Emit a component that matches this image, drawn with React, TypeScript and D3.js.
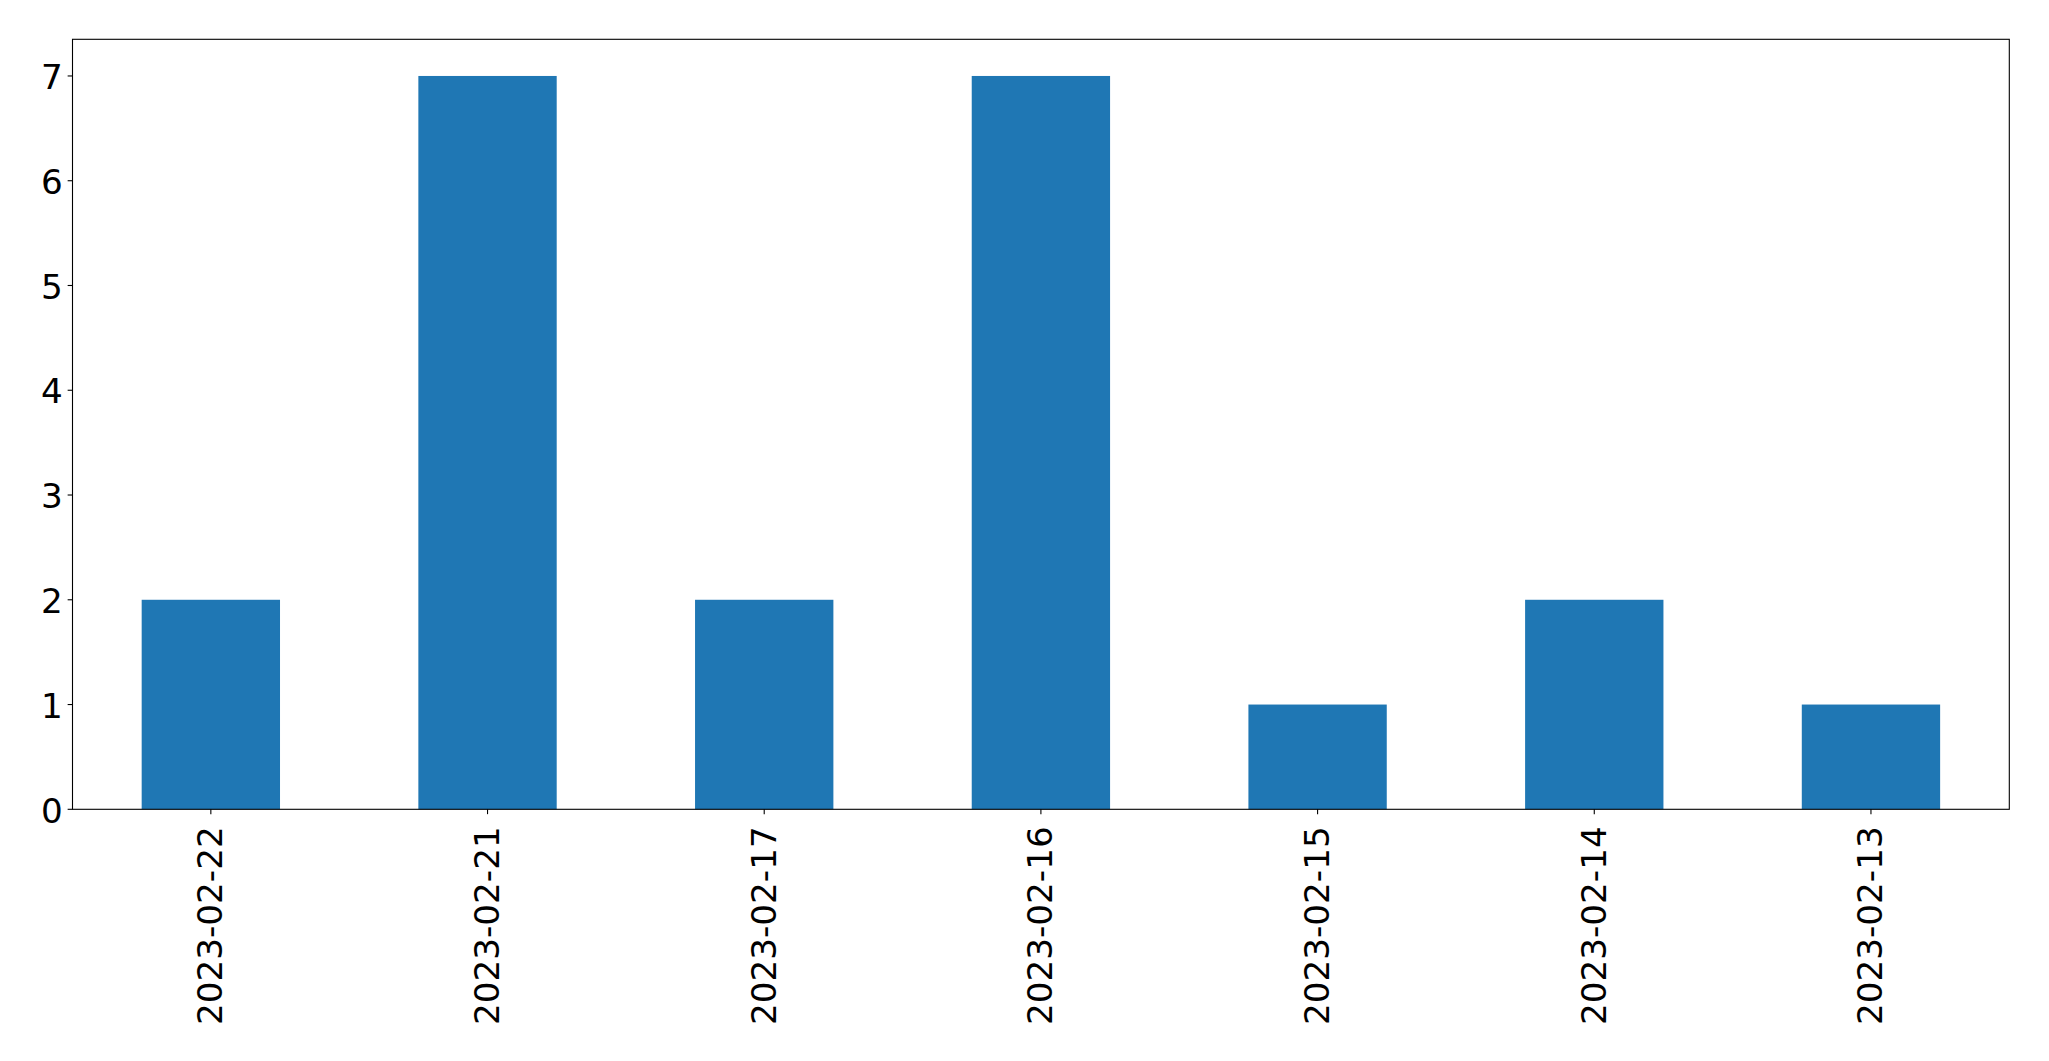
import React from "react";
import * as d3 from "d3";

const categories = ["2023-02-22", "2023-02-21", "2023-02-17", "2023-02-16", "2023-02-15", "2023-02-14", "2023-02-13"];
const values = [2, 7, 2, 7, 1, 2, 1];
const yTicks = [0, 1, 2, 3, 4, 5, 6, 7];

const W = 2049;
const H = 1061;
const left = 72.5;
const right = 2009.3;
const top = 39.3;
const bottom = 809.3;
const fontSize = 34.2;
const tickLen = 4.86;
const pad = 4.86;

export default function App() {
  const x = d3.scaleBand<string>().domain(categories).range([left, right]).paddingInner(0.5).paddingOuter(0.25);
  const y = d3.scaleLinear().domain([0, 7.35]).range([bottom, top]);
  const bw = x.bandwidth();
  return (
    <svg width={W} height={H} style={{ position: "absolute", left: 0, top: 0, background: "#fff" }} fontFamily="DejaVu Sans">
      <rect x={0} y={0} width={W} height={H} fill="#fff" />
      {values.map((v, i) => (
        <rect key={i} x={x(categories[i])!} y={y(v)} width={bw} height={y(0) - y(v)} fill="#1f77b4" />
      ))}
      <rect x={left} y={top} width={right - left} height={bottom - top} fill="none" stroke="#000" strokeWidth={1.1} />
      {yTicks.map((t) => (
        <g key={t}>
          <line x1={left - tickLen} x2={left} y1={y(t)} y2={y(t)} stroke="#000" strokeWidth={1.1} />
          <text x={left - tickLen - pad} y={y(t) + 1.2} textAnchor="end" dominantBaseline="central" fontSize={fontSize} fill="#000">
            {t}
          </text>
        </g>
      ))}
      {categories.map((c) => {
        const cx = x(c)! + bw / 2;
        const ty = bottom + 17;
        return (
          <g key={c}>
            <line x1={cx} x2={cx} y1={bottom} y2={bottom + tickLen} stroke="#000" strokeWidth={1.1} />
            <text
              transform={`translate(${cx - 0.5},${ty}) rotate(-90)`}
              textAnchor="end"
              dominantBaseline="central"
              fontSize={fontSize}
              fill="#000"
            >
              {c}
            </text>
          </g>
        );
      })}
    </svg>
  );
}
